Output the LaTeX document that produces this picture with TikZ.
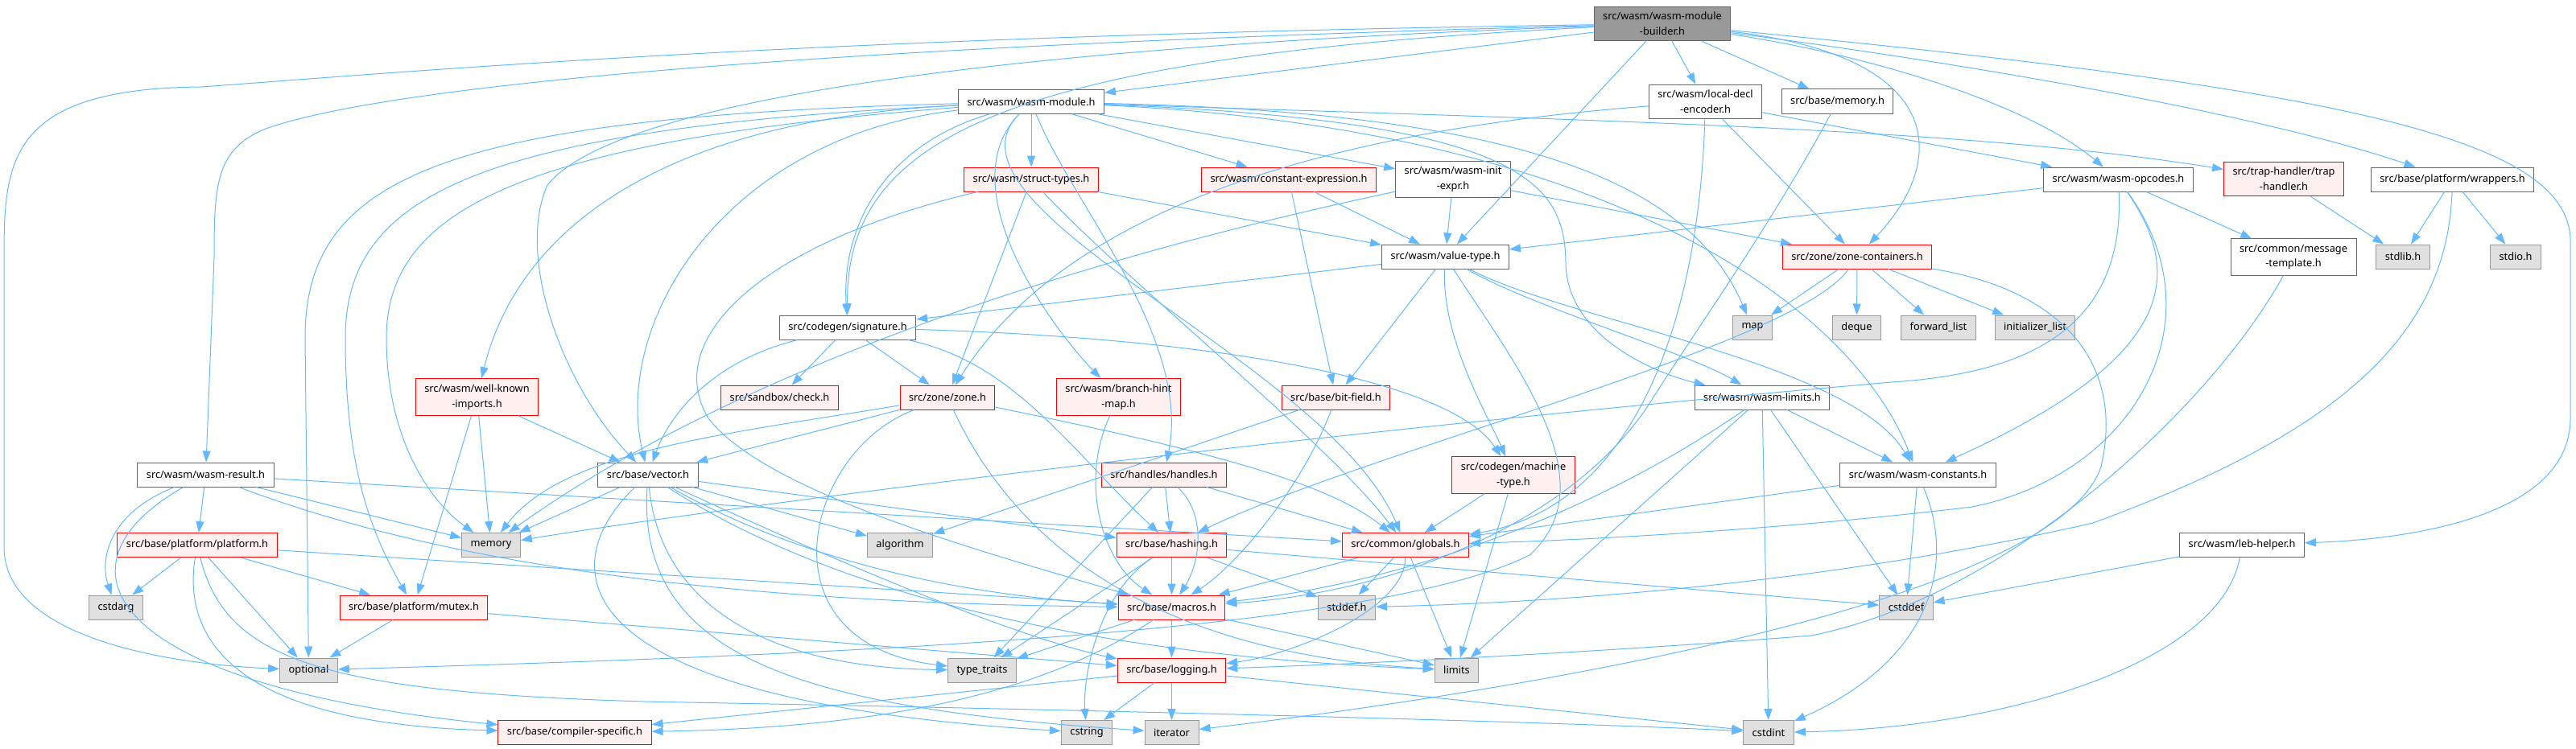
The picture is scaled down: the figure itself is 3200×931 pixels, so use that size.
\documentclass[tikz,border=0pt]{standalone}
\usepackage{fontspec}
\setmainfont{Noto Sans}
\usetikzlibrary{arrows.meta}
\definecolor{link}{HTML}{63B8FF}
\definecolor{redfill}{HTML}{FFF0F0}
\definecolor{sysfill}{HTML}{E0E0E0}
\definecolor{sysline}{HTML}{999999}
\definecolor{plainline}{HTML}{666666}
\definecolor{rootfill}{HTML}{999999}
\begin{document}
\begin{tikzpicture}[x=0.5pt,y=-0.5pt,
  >={Triangle[length=7pt,width=5pt]},
  box/.style={draw, rectangle, line width=0.5pt, align=center, inner xsep=5.5pt, inner ysep=3.5pt, minimum height=15pt, font=\fontsize{6.4pt}{9.4pt}\selectfont},
  plainbox/.style={box, draw=plainline, fill=white},
  redbox/.style={box, draw=red, fill=redfill},
  sysbox/.style={box, draw=sysline, fill=sysfill},
  rootbox/.style={box, draw=plainline, fill=rootfill},
  edge/.style={->, draw=link, line width=0.5pt}]
\useasboundingbox (0,0) rectangle (3200,931);
\node[rootbox] (builder) at (2065,29.5) {src/wasm/wasm-module\\-builder.h};
\node[plainbox] (module) at (1281,126.5) {src/wasm/wasm-module.h};
\node[plainbox] (localdecl) at (2118.5,126.5) {src/wasm/local-decl\\-encoder.h};
\node[plainbox] (basememory) at (2282.5,126) {src/base/memory.h};
\node[redbox] (structtypes) at (1281,223) {src/wasm/struct-types.h};
\node[redbox] (constexpr) at (1601,223) {src/wasm/constant-expression.h};
\node[plainbox] (initexpr) at (1805,223) {src/wasm/wasm-init\\-expr.h};
\node[plainbox] (opcodes) at (2631.5,223) {src/wasm/wasm-opcodes.h};
\node[redbox] (traphandler) at (2837,222.5) {src/trap-handler/trap\\-handler.h};
\node[plainbox] (wrappers) at (3046.5,223) {src/base/platform/wrappers.h};
\node[plainbox] (valuetype) at (1795.5,319) {src/wasm/value-type.h};
\node[redbox] (zonecont) at (2307,319) {src/zone/zone-containers.h};
\node[plainbox] (msgtemplate) at (2849,319.5) {src/common/message\\-template.h};
\node[sysbox] (stdlib) at (2985,319) {stdlib.h};
\node[sysbox] (stdio) at (3125,319) {stdio.h};
\node[plainbox] (signature) at (1053,407) {src/codegen/signature.h};
\node[sysbox] (map) at (2177,407) {map};
\node[sysbox] (deque) at (2306.5,407) {deque};
\node[sysbox] (fwdlist) at (2408,407) {forward\_list};
\node[sysbox] (initlist) at (2528,407) {initializer\_list};
\node[redbox] (wellknown) at (592.5,493.5) {src/wasm/well-known\\-imports.h};
\node[redbox] (check) at (968.5,494) {src/sandbox/check.h};
\node[redbox] (zone) at (1177,494) {src/zone/zone.h};
\node[redbox] (branchhint) at (1389.5,493.5) {src/wasm/branch-hint\\-map.h};
\node[redbox] (bitfield) at (1659.5,494) {src/base/bit-field.h};
\node[plainbox] (limitsh) at (2189,494) {src/wasm/wasm-limits.h};
\node[plainbox] (result) at (255.5,590) {src/wasm/wasm-result.h};
\node[plainbox] (vector) at (805,590) {src/base/vector.h};
\node[redbox] (handles) at (1446,590) {src/handles/handles.h};
\node[redbox] (machinetype) at (1880,590.5) {src/codegen/machine\\-type.h};
\node[plainbox] (constants) at (2382.5,590) {src/wasm/wasm-constants.h};
\node[redbox] (platform) at (245,677.5) {src/base/platform/platform.h};
\node[sysbox] (memory) at (610,677.5) {memory};
\node[sysbox] (algorithm) at (1118,677.5) {algorithm};
\node[redbox] (hashing) at (1455.5,677.5) {src/base/hashing.h};
\node[redbox] (globals) at (1746,677.5) {src/common/globals.h};
\node[plainbox] (leb) at (2785,677.5) {src/wasm/leb-helper.h};
\node[sysbox] (cstdarg) at (144,755) {cstdarg};
\node[redbox] (mutex) at (514,755) {src/base/platform/mutex.h};
\node[redbox] (macros) at (1455.5,755) {src/base/macros.h};
\node[sysbox] (stddef) at (1673,755) {stddef.h};
\node[sysbox] (cstddef) at (2368,755) {cstddef};
\node[sysbox] (optional) at (383.5,833) {optional};
\node[sysbox] (typetraits) at (1220,833) {type\_traits};
\node[redbox] (logging) at (1455.5,833) {src/base/logging.h};
\node[sysbox] (limits) at (1809.5,833) {limits};
\node[redbox] (compiler) at (714,910.5) {src/base/compiler-specific.h};
\node[sysbox] (cstring) at (1350,910.5) {cstring};
\node[sysbox] (iterator) at (1455.5,910.5) {iterator};
\node[sysbox] (cstdint) at (2197,910.5) {cstdint};
\draw[edge] (builder) -- (module);
\draw[edge] (builder) -- (localdecl);
\draw[edge] (builder) -- (basememory);
\draw[edge] (builder) -- (valuetype);
\draw[edge] (builder) .. controls (2330,70) and (2520,130) .. (opcodes);
\draw[edge] (builder) .. controls (2450,80) and (2800,140) .. (wrappers);
\draw[edge] (builder) .. controls (2420,70) and (2420,200) .. (zonecont);
\draw[edge] (builder) .. controls (2900,110) and (3193,170) .. (3193,300) -- (3193,520) .. controls (3193,640) and (3000,670) .. (leb);
\draw[edge] (builder) .. controls (1100,55) and (500,100) .. (330,160) .. controls (268,185) and (266,230) .. (266,320) -- (result);
\draw[edge] (builder) .. controls (1000,45) and (500,90) .. (250,108) .. controls (10,110) and (5,200) .. (5,320) -- (5,680) .. controls (5,790) and (200,825) .. (optional);
\draw[edge] (builder) .. controls (1250,70) and (1050,170) .. (signature);
\draw[edge] (builder) .. controls (1200,60) and (760,130) .. (680,230) .. controls (640,320) and (700,480) .. (vector);
\draw[edge] (module) -- (structtypes);
\draw[edge] (module) -- (constexpr);
\draw[edge] (module) -- (initexpr);
\draw[edge] (module) .. controls (2000,150) and (2450,160) .. (traphandler);
\draw[edge] (module) .. controls (1100,180) and (1045,280) .. (signature);
\draw[edge] (module) .. controls (550,145) and (379,220) .. (379,420) -- (optional);
\draw[edge] (module) .. controls (600,160) and (429,240) .. (429,420) .. controls (429,580) and (460,660) .. (mutex);
\draw[edge] (module) .. controls (650,175) and (480,260) .. (480,420) .. controls (480,540) and (530,620) .. (memory);
\draw[edge] (module) .. controls (800,150) and (640,300) .. (wellknown);
\draw[edge] (module) .. controls (900,170) and (760,400) .. (vector);
\draw[edge] (module) .. controls (1900,140) and (2100,230) .. (map);
\draw[edge] (module) .. controls (1900,150) and (1945,230) .. (1945,330) .. controls (1950,430) and (2080,470) .. (limitsh);
\draw[edge] (module) .. controls (2000,160) and (2300,380) .. (constants);
\draw[edge] (module) .. controls (1150,260) and (1650,450) .. (globals);
\draw[edge] (module) .. controls (1330,250) and (1480,420) .. (handles);
\draw[edge] (module) .. controls (1180,230) and (1300,400) .. (branchhint);
\draw[edge] (localdecl) .. controls (1550,170) and (1300,300) .. (zone);
\draw[edge] (localdecl) .. controls (2110,400) and (2030,630) .. (globals);
\draw[edge] (localdecl) -- (zonecont);
\draw[edge] (localdecl) -- (opcodes);
\draw[edge] (basememory) .. controls (2200,280) and (2100,420) .. (2050,500) .. controls (1960,640) and (1750,735) .. (macros);
\draw[edge] (structtypes) -- (valuetype);
\draw[edge] (structtypes) -- (zone);
\draw[edge] (structtypes) .. controls (1400,350) and (1650,550) .. (globals);
\draw[edge] (structtypes) .. controls (950,300) and (820,420) .. (880,520) .. controls (950,610) and (1200,680) .. (macros);
\draw[edge] (constexpr) -- (bitfield);
\draw[edge] (constexpr) -- (valuetype);
\draw[edge] (initexpr) .. controls (1300,330) and (900,470) .. (memory);
\draw[edge] (initexpr) -- (valuetype);
\draw[edge] (initexpr) -- (zonecont);
\draw[edge] (traphandler) -- (stdlib);
\draw[edge] (opcodes) -- (valuetype);
\draw[edge] (opcodes) -- (msgtemplate);
\draw[edge] (opcodes) .. controls (2640,420) and (2500,465) .. (2350,475) .. controls (1600,540) and (900,630) .. (memory);
\draw[edge] (opcodes) .. controls (2720,350) and (2690,450) .. (constants);
\draw[edge] (opcodes) .. controls (2760,400) and (2650,590) .. (2450,630) .. controls (2200,660) and (1950,672) .. (globals);
\draw[edge] (wrappers) -- (stdlib);
\draw[edge] (wrappers) -- (stdio);
\draw[edge] (wrappers) .. controls (3040,420) and (2900,540) .. (2600,650) .. controls (2250,730) and (1900,750) .. (stddef);
\draw[edge] (valuetype) -- (signature);
\draw[edge] (valuetype) -- (bitfield);
\draw[edge] (valuetype) .. controls (1790,420) and (1850,520) .. (machinetype);
\draw[edge] (valuetype) .. controls (1900,380) and (2100,440) .. (limitsh);
\draw[edge] (valuetype) .. controls (1950,400) and (2300,450) .. (constants);
\draw[edge] (valuetype) .. controls (1880,450) and (2000,600) .. (1900,690) .. controls (1700,790) and (1000,815) .. (optional);
\draw[edge] (zonecont) -- (map);
\draw[edge] (zonecont) -- (deque);
\draw[edge] (zonecont) -- (fwdlist);
\draw[edge] (zonecont) -- (initlist);
\draw[edge] (zonecont) .. controls (2230,430) and (1700,560) .. (hashing);
\draw[edge] (zonecont) .. controls (2560,360) and (2640,450) .. (2610,580) .. controls (2550,760) and (1800,870) .. (iterator);
\draw[edge] (msgtemplate) .. controls (2750,500) and (2500,740) .. (2250,790) .. controls (2000,810) and (1700,825) .. (logging);
\draw[edge] (signature) .. controls (880,450) and (830,520) .. (vector);
\draw[edge] (signature) -- (check);
\draw[edge] (signature) -- (zone);
\draw[edge] (signature) .. controls (1260,450) and (1330,560) .. (hashing);
\draw[edge] (signature) .. controls (1500,420) and (1800,470) .. (machinetype);
\draw[edge] (wellknown) -- (memory);
\draw[edge] (wellknown) -- (mutex);
\draw[edge] (wellknown) -- (vector);
\draw[edge] (zone) .. controls (900,540) and (700,560) .. (memory);
\draw[edge] (zone) -- (vector);
\draw[edge] (zone) .. controls (1000,560) and (940,800) .. (typetraits);
\draw[edge] (zone) .. controls (1250,650) and (1400,810) .. (limits);
\draw[edge] (zone) .. controls (1500,560) and (1650,600) .. (globals);
\draw[edge] (branchhint) .. controls (1340,600) and (1370,700) .. (macros);
\draw[edge] (bitfield) -- (algorithm);
\draw[edge] (bitfield) .. controls (1620,600) and (1540,700) .. (macros);
\draw[edge] (limitsh) .. controls (1950,660) and (1700,730) .. (macros);
\draw[edge] (limitsh) -- (limits);
\draw[edge] (limitsh) -- (cstdint);
\draw[edge] (limitsh) -- (cstddef);
\draw[edge] (limitsh) -- (constants);
\draw[edge] (result) .. controls (130,640) and (125,700) .. (cstdarg);
\draw[edge] (result) .. controls (60,700) and (120,850) .. (compiler);
\draw[edge] (result) -- (platform);
\draw[edge] (result) .. controls (600,720) and (1000,750) .. (macros);
\draw[edge] (result) -- (memory);
\draw[edge] (result) -- (globals);
\draw[edge] (platform) -- (cstdarg);
\draw[edge] (platform) -- (optional);
\draw[edge] (platform) -- (mutex);
\draw[edge] (platform) .. controls (225,800) and (300,900) .. (compiler);
\draw[edge] (platform) .. controls (280,820) and (400,860) .. (800,872) .. controls (1500,885) and (2000,900) .. (cstdint);
\draw[edge] (platform) -- (macros);
\draw[edge] (mutex) -- (optional);
\draw[edge] (mutex) -- (logging);
\draw[edge] (vector) -- (algorithm);
\draw[edge] (vector) -- (hashing);
\draw[edge] (vector) -- (memory);
\draw[edge] (vector) .. controls (1000,680) and (1250,790) .. (logging);
\draw[edge] (vector) .. controls (1100,780) and (1500,820) .. (limits);
\draw[edge] (vector) .. controls (820,750) and (950,830) .. (typetraits);
\draw[edge] (vector) .. controls (1000,700) and (1200,740) .. (macros);
\draw[edge] (vector) .. controls (690,700) and (680,870) .. (cstring);
\draw[edge] (vector) .. controls (790,820) and (1000,880) .. (iterator);
\draw[edge] (handles) -- (typetraits);
\draw[edge] (handles) -- (hashing);
\draw[edge] (handles) -- (globals);
\draw[edge] (handles) .. controls (1500,640) and (1490,700) .. (macros);
\draw[edge] (hashing) -- (typetraits);
\draw[edge] (hashing) -- (macros);
\draw[edge] (hashing) -- (stddef);
\draw[edge] (hashing) -- (cstddef);
\draw[edge] (hashing) .. controls (1360,740) and (1345,850) .. (cstring);
\draw[edge] (macros) -- (typetraits);
\draw[edge] (macros) -- (logging);
\draw[edge] (macros) -- (limits);
\draw[edge] (macros) .. controls (1300,860) and (1100,905) .. (compiler);
\draw[edge] (logging) -- (cstring);
\draw[edge] (logging) -- (iterator);
\draw[edge] (logging) -- (compiler);
\draw[edge] (logging) -- (cstdint);
\draw[edge] (globals) -- (macros);
\draw[edge] (globals) -- (stddef);
\draw[edge] (globals) -- (limits);
\draw[edge] (globals) .. controls (1745,760) and (1600,815) .. (logging);
\draw[edge] (machinetype) -- (globals);
\draw[edge] (machinetype) -- (limits);
\draw[edge] (constants) -- (globals);
\draw[edge] (constants) -- (cstddef);
\draw[edge] (constants) .. controls (2430,700) and (2400,820) .. (cstdint);
\draw[edge] (leb) -- (cstddef);
\draw[edge] (leb) .. controls (2760,820) and (2500,905) .. (cstdint);
\end{tikzpicture}
\end{document}
